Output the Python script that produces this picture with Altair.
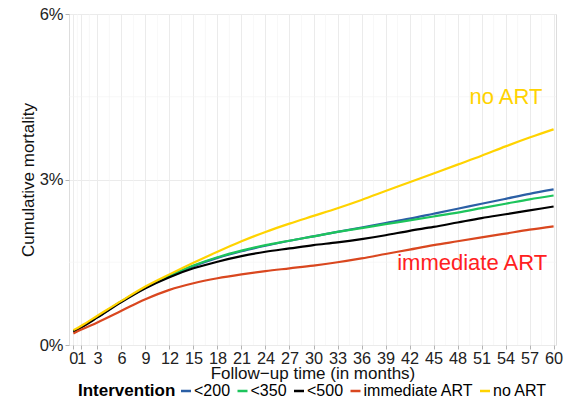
import altair as alt
import pandas as pd

months = [0, 1, 3, 6, 9, 12, 15, 18, 21, 24, 27, 30, 33, 36, 39, 42, 45, 48, 51, 54, 57, 60]

lt200 = [0.25, 0.33, 0.51, 0.79, 1.04, 1.25, 1.43, 1.58, 1.70, 1.80, 1.89,
         1.97, 2.05, 2.13, 2.21, 2.29, 2.38, 2.47, 2.56, 2.65, 2.74, 2.82]
lt350 = [0.25, 0.33, 0.51, 0.79, 1.04, 1.25, 1.44, 1.59, 1.71, 1.81, 1.89,
         1.97, 2.05, 2.12, 2.19, 2.26, 2.33, 2.40, 2.48, 2.56, 2.64, 2.71]
lt500 = [0.24, 0.32, 0.50, 0.78, 1.03, 1.23, 1.39, 1.51, 1.61, 1.69, 1.75,
         1.81, 1.86, 1.92, 1.99, 2.07, 2.14, 2.22, 2.30, 2.37, 2.44, 2.51]
immediate = [0.21, 0.28, 0.41, 0.62, 0.83, 1.00, 1.12, 1.21, 1.28, 1.34, 1.39,
             1.44, 1.50, 1.57, 1.65, 1.73, 1.81, 1.88, 1.95, 2.02, 2.09, 2.15]
noart = [0.27, 0.35, 0.53, 0.80, 1.06, 1.28, 1.49, 1.69, 1.88, 2.05, 2.20,
         2.34, 2.48, 2.63, 2.79, 2.95, 3.11, 3.27, 3.43, 3.60, 3.76, 3.91]

groups = ["<200", "<350", "<500", "immediate ART", "no ART"]
colors = ["#2B5FA5", "#1DC45C", "#000000", "#D9471F", "#FFD300"]
series = [lt200, lt350, lt500, immediate, noart]

x_ticks = [0, 1, 3, 6, 9, 12, 15, 18, 21, 24, 27, 30, 33, 36, 39, 42, 45, 48, 51, 54, 57, 60]
y_ticks = [0, 3, 6]
x_minor = [0.5, 2, 4.5, 7.5, 10.5, 13.5, 16.5, 19.5, 22.5, 25.5, 28.5, 31.5, 34.5,
           37.5, 40.5, 43.5, 46.5, 49.5, 52.5, 55.5, 58.5]
y_minor = [1.5, 4.5]

ann_text = ["no ART", "immediate ART"]
ann_x = [58.6, 59.2]
ann_y = [4.49, 1.49]
ann_color = ["#FFD300", "#FF2020"]

rows = []
for i, (g, vals) in enumerate(zip(groups, series)):
    for m, v in zip(months, vals):
        rows.append({"month": m, "value": v, "Intervention": g, "grp": i})
df = pd.DataFrame(rows)

FONT = "Liberation Sans"
xs = alt.Scale(domain=[-0.55, 60.3], nice=False, zero=False)
ys = alt.Scale(domain=[0, 6], nice=False)

ax_x = alt.Axis(values=x_ticks, title="Follow\u2212up time (in months)",
                labelOverlap=False, labelFlush=False, labelBound=False,
                grid=True, gridColor="#ebebeb", gridWidth=1,
                tickColor="#b3b3b3", tickSize=4, domain=False,
                labelFontSize=16.3, labelColor="#222222", labelPadding=1,
                titleFontSize=17, titleFontWeight="normal", titleColor="#111111",
                titlePadding=-1, labelFont=FONT, titleFont=FONT)
ax_y = alt.Axis(values=y_ticks, labelExpr="datum.value + '%'",
                title="Cumulative mortality",
                labelOverlap=False, labelFlush=False, labelBound=False,
                grid=True, gridColor="#ebebeb", gridWidth=1,
                tickColor="#b3b3b3", tickSize=4, domain=False,
                labelFontSize=16.5, labelColor="#222222", labelPadding=2,
                titleFontSize=17, titleFontWeight="normal", titleColor="#111111",
                titlePadding=2, labelFont=FONT, titleFont=FONT)

minor_v = alt.Chart(pd.DataFrame({"m": x_minor})).mark_rule(
    color="#f3f3f3", strokeWidth=0.6).encode(x=alt.X("m:Q", scale=xs, axis=ax_x))
minor_h = alt.Chart(pd.DataFrame({"v": y_minor})).mark_rule(
    color="#f3f3f3", strokeWidth=0.6).encode(y=alt.Y("v:Q", scale=ys, axis=ax_y))

lines = alt.Chart(df).mark_line(strokeWidth=2.2, interpolate="monotone").encode(
    x=alt.X("month:Q", scale=xs, axis=ax_x),
    y=alt.Y("value:Q", scale=ys, axis=ax_y),
    color=alt.Color("Intervention:N",
                    scale=alt.Scale(domain=groups, range=colors),
                    sort=groups,
                    legend=alt.Legend(orient="none", legendX=9, legendY=369,
                                      direction="horizontal", titleOrient="left",
                                      symbolType="stroke", symbolStrokeWidth=2.5,
                                      symbolSize=100, labelOffset=0, columnPadding=1.5,
                                      titlePadding=2, titleFontSize=17, titleFontWeight="bold",
                                      titleColor="#000000", labelFontSize=16,
                                      labelColor="#000000", titleFont=FONT, labelFont=FONT,
                                      titleBaseline="middle", labelBaseline="middle")),
    order=alt.Order("grp:Q"),
)

ann = alt.Chart(pd.DataFrame({"t": ann_text, "x": ann_x, "y": ann_y, "c": ann_color})).mark_text(
    align="right", baseline="middle", fontSize=22, font=FONT).encode(
    x=alt.X("x:Q", scale=xs, axis=ax_x), y=alt.Y("y:Q", scale=ys, axis=ax_y),
    text="t:N", color=alt.Color("c:N", scale=None, legend=None))

chart = alt.layer(minor_v, minor_h, lines, ann).properties(
    width=487, height=331,
    autosize=alt.AutoSizeParams(type="none"),
    padding={"left": 61, "top": 6, "right": 9, "bottom": 54},
).configure_view(stroke="#b3b3b3", strokeWidth=1.2).configure(background="white")

chart.save("out.html", embed_options={"renderer": "svg", "actions": False})
